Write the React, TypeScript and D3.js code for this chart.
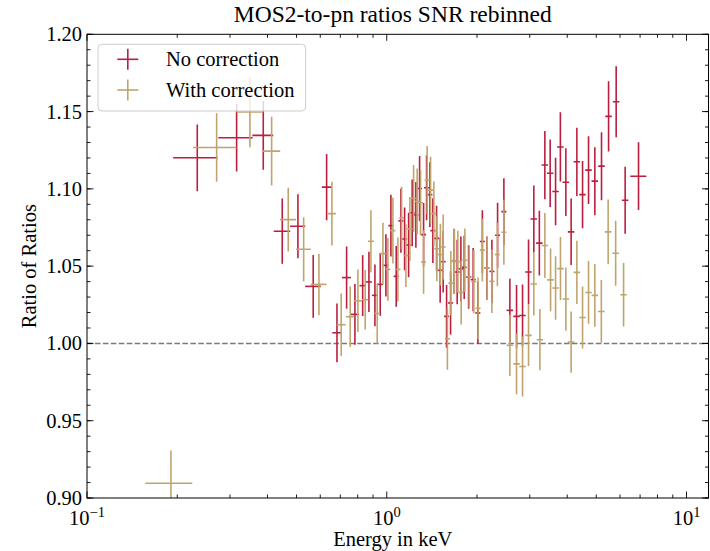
import React from "react";
import * as d3 from "d3";

// ---------- Data ----------
// Series 1: No correction
const noCorrEnergy = [0.2333, 0.3156, 0.3873, 0.4481, 0.5054, 0.5684, 0.6301, 0.6822, 0.7346, 0.7831, 0.8311, 0.872, 0.9131, 0.9511, 0.9935, 1.0323, 1.0753, 1.1149, 1.147, 1.1828, 1.2158, 1.2507, 1.2869, 1.3269, 1.3578, 1.3928, 1.4252, 1.4662, 1.5073, 1.5424, 1.5834, 1.6327, 1.6785, 1.7179, 1.7673, 1.8127, 1.875, 1.9423, 2.0137, 2.0845, 2.1578, 2.2424, 2.3428, 2.4588, 2.5746, 2.7102, 2.8379, 2.9717, 3.0951, 3.2291, 3.3684, 3.509, 3.6578, 3.7951, 3.958, 4.1217, 4.3073, 4.4998, 4.7117, 4.9448, 5.2053, 5.4954, 5.8256, 6.2419, 6.9167];
const noCorrEnergyErr = [0.0395, 0.0414, 0.031, 0.0283, 0.0292, 0.034, 0.0225, 0.024, 0.0255, 0.025, 0.02, 0.02, 0.021, 0.021, 0.02, 0.02, 0.021, 0.0215, 0.022, 0.023, 0.0235, 0.024, 0.025, 0.0255, 0.026, 0.027, 0.0275, 0.0285, 0.029, 0.03, 0.0305, 0.0315, 0.0325, 0.033, 0.034, 0.035, 0.0365, 0.0375, 0.039, 0.0405, 0.042, 0.0435, 0.0455, 0.0475, 0.064, 0.0675, 0.071, 0.074, 0.0775, 0.0805, 0.084, 0.0875, 0.0915, 0.095, 0.099, 0.103, 0.1075, 0.1125, 0.118, 0.1235, 0.13, 0.1375, 0.1455, 0.156, 0.425];
const noCorrRatio = [1.1201, 1.1331, 1.1346, 1.0726, 1.0758, 1.0369, 1.1011, 1.0069, 1.0426, 1.0188, 1.0374, 1.0398, 1.0311, 1.0382, 1.0505, 1.0762, 1.0434, 1.0793, 1.0676, 1.0637, 1.0845, 1.0832, 1.1002, 1.0704, 1.1007, 1.0963, 1.073, 1.068, 1.0473, 1.0529, 1.0175, 1.0262, 1.0532, 1.0462, 1.0482, 1.0492, 1.043, 1.0413, 1.0197, 1.0659, 1.0487, 1.0466, 1.07, 1.0853, 1.0214, 1.0175, 1.0181, 1.0462, 1.0805, 1.0649, 1.1154, 1.1101, 1.0983, 1.1271, 1.1043, 1.0722, 1.1175, 1.0963, 1.1121, 1.105, 1.1147, 1.1469, 1.1564, 1.0926, 1.1082];
const noCorrRatioErr = [0.0216, 0.0219, 0.0222, 0.0211, 0.0207, 0.0203, 0.0214, 0.019, 0.0201, 0.0196, 0.0197, 0.0195, 0.02, 0.0203, 0.0202, 0.02, 0.0197, 0.0207, 0.0203, 0.0208, 0.0216, 0.0213, 0.021, 0.0205, 0.021, 0.021, 0.021, 0.021, 0.021, 0.02, 0.0203, 0.0205, 0.021, 0.0208, 0.021, 0.0205, 0.0205, 0.0205, 0.02, 0.0203, 0.0205, 0.0205, 0.021, 0.0216, 0.0205, 0.0203, 0.02, 0.021, 0.0216, 0.021, 0.0221, 0.0218, 0.0218, 0.0224, 0.0219, 0.0215, 0.0221, 0.0218, 0.0219, 0.022, 0.022, 0.0227, 0.023, 0.0217, 0.0219];

// Series 2: With correction
const withCorrEnergy = [0.1906, 0.2707, 0.3496, 0.413, 0.4692, 0.5282, 0.5939, 0.6563, 0.7048, 0.7553, 0.8013, 0.8474, 0.8854, 0.9294, 0.971, 1.0088, 1.0484, 1.0895, 1.1208, 1.1585, 1.1946, 1.229, 1.2632, 1.2967, 1.3269, 1.3641, 1.4001, 1.4361, 1.4696, 1.5097, 1.5424, 1.5933, 1.6364, 1.6812, 1.7271, 1.7713, 1.8223, 1.8836, 1.9525, 2.0166, 2.0845, 2.1612, 2.2424, 2.3391, 2.4588, 2.5746, 2.7102, 2.8379, 2.9717, 3.0951, 3.2417, 3.3684, 3.5197, 3.6578, 3.798, 3.958, 4.1217, 4.3073, 4.4998, 4.7117, 4.9448, 5.1981, 5.4777, 5.8028, 6.1662];
const withCorrEnergyErr = [0.034, 0.0447, 0.0343, 0.028, 0.0288, 0.03, 0.0358, 0.02, 0.024, 0.025, 0.025, 0.02, 0.02, 0.021, 0.021, 0.02, 0.0205, 0.021, 0.0215, 0.0225, 0.023, 0.024, 0.0245, 0.025, 0.0255, 0.0265, 0.027, 0.028, 0.0285, 0.029, 0.03, 0.031, 0.0315, 0.0325, 0.0335, 0.0345, 0.0355, 0.0365, 0.038, 0.039, 0.0405, 0.042, 0.0435, 0.0455, 0.0475, 0.064, 0.0675, 0.071, 0.074, 0.0775, 0.081, 0.084, 0.088, 0.0915, 0.095, 0.099, 0.103, 0.1075, 0.1125, 0.118, 0.1235, 0.13, 0.137, 0.145, 0.154];
const withCorrRatio = [0.9095, 1.1268, 1.1497, 1.1244, 1.0801, 1.0609, 1.0382, 1.084, 1.0121, 1.0173, 1.0276, 1.0283, 1.0661, 1.0194, 1.0581, 1.0479, 1.073, 1.0479, 1.0812, 1.0568, 1.0741, 1.0939, 1.0918, 1.091, 1.0527, 1.1056, 1.0992, 1.084, 1.0613, 1.0575, 1.0624, 1.003, 1.039, 1.0531, 1.0529, 1.033, 1.0538, 1.0432, 1.04, 1.0227, 1.0604, 1.0487, 1.0402, 1.0575, 1.0719, 0.9988, 0.9868, 0.9851, 1.0052, 1.0385, 1.0024, 1.0634, 1.0411, 1.0359, 1.0484, 1.0287, 1.0009, 1.046, 1.0168, 1.033, 1.0311, 1.0207, 1.0722, 1.0583, 1.0315];
const withCorrRatioErr = [0.0212, 0.0222, 0.0227, 0.0222, 0.0207, 0.0207, 0.0199, 0.0206, 0.0203, 0.0196, 0.0202, 0.0192, 0.02, 0.0194, 0.02, 0.0203, 0.0213, 0.0207, 0.0202, 0.0203, 0.0207, 0.0216, 0.0213, 0.021, 0.0206, 0.0221, 0.0215, 0.021, 0.021, 0.02, 0.021, 0.02, 0.0208, 0.021, 0.02, 0.0207, 0.0205, 0.02, 0.0205, 0.02, 0.0203, 0.0205, 0.0205, 0.0205, 0.021, 0.0198, 0.0197, 0.0194, 0.0198, 0.0205, 0.0198, 0.021, 0.0203, 0.0205, 0.0205, 0.0205, 0.0198, 0.0205, 0.0201, 0.0203, 0.0203, 0.0203, 0.021, 0.021, 0.0205];

const seriesNames = ["No correction", "With correction"];
const yTickValues = [0.9, 0.95, 1.0, 1.05, 1.1, 1.15, 1.2];
const yTickLabels = ["0.90", "0.95", "1.00", "1.05", "1.10", "1.15", "1.20"];
const xMajorTicks = [0.1, 1, 10];
const xMajorExponents = ["\u22121", "0", "1"];
const referenceLevel = 1.0;

// ---------- Layout ----------
const W = 710;
const H = 551;
const left = 87;
const right = 708.5;
const top = 34.3;
const bottom = 498;

const RED = "#bb1f3f";
const TAN = "#bfa56d";
const FONT = "Liberation Serif, Times New Roman, DejaVu Serif, serif";

const x = d3.scaleLog().domain([0.1, 11.84]).range([left, right]);
const y = d3.scaleLinear().domain([0.9, 1.2]).range([bottom, top]);

function makeSeries(e: number[], ee: number[], r: number[], re: number[]) {
  return e.map((v, i) => ({ e: v, ee: ee[i], r: r[i], re: re[i] }));
}

const series = [
  { name: seriesNames[0], color: RED, data: makeSeries(noCorrEnergy, noCorrEnergyErr, noCorrRatio, noCorrRatioErr) },
  { name: seriesNames[1], color: TAN, data: makeSeries(withCorrEnergy, withCorrEnergyErr, withCorrRatio, withCorrRatioErr) },
];

export default function App() {
  const minorX: number[] = [];
  for (let dec = 0.1; dec < 20; dec *= 10) {
    for (let k = 2; k <= 9; k++) {
      const v = k * dec;
      if (v > 0.1 && v < 11.84) minorX.push(v);
    }
  }
  const minorY = d3.range(0, 31).map((i) => 0.9 + i * 0.01);

  const majLen = 6.5;
  const minLen = 3.5;
  const tickColor = "#000";

  return (
    <svg
      width={W}
      height={H}
      style={{ position: "absolute", left: 0, top: 0, background: "#fff", fontFamily: FONT }}
    >
      <rect x={0} y={0} width={W} height={H} fill="#fff" />
      <defs>
        <clipPath id="plotclip">
          <rect x={left} y={top} width={right - left} height={bottom - top} />
        </clipPath>
      </defs>

      {/* reference line */}
      <line
        x1={left}
        x2={right}
        y1={y(referenceLevel)}
        y2={y(referenceLevel)}
        stroke="#7a7a7a"
        strokeWidth={1.6}
        strokeDasharray="5.55 2.4"
      />

      {/* error bars */}
      <g clipPath="url(#plotclip)">
        {series.map((s) => (
          <g key={s.name} stroke={s.color} strokeWidth={1.6}>
            {s.data.map((d, i) => (
              <g key={i}>
                <line x1={x(d.e - d.ee)} x2={x(d.e + d.ee)} y1={y(d.r)} y2={y(d.r)} />
                <line x1={x(d.e)} x2={x(d.e)} y1={y(d.r - d.re)} y2={y(d.r + d.re)} />
              </g>
            ))}
          </g>
        ))}
      </g>

      {/* ticks */}
      <g stroke={tickColor} strokeWidth={0.9}>
        {xMajorTicks.map((t) => (
          <g key={"xM" + t}>
            <line x1={x(t)} x2={x(t)} y1={bottom} y2={bottom - majLen} />
            <line x1={x(t)} x2={x(t)} y1={top} y2={top + majLen} />
          </g>
        ))}
        {minorX.map((t) => (
          <g key={"xm" + t}>
            <line x1={x(t)} x2={x(t)} y1={bottom} y2={bottom - minLen} />
            <line x1={x(t)} x2={x(t)} y1={top} y2={top + minLen} />
          </g>
        ))}
        {yTickValues.map((t) => (
          <g key={"yM" + t}>
            <line x1={left} x2={left + majLen} y1={y(t)} y2={y(t)} />
            <line x1={right} x2={right - majLen} y1={y(t)} y2={y(t)} />
          </g>
        ))}
        {minorY.map((t, i) => (
          <g key={"ym" + i}>
            <line x1={left} x2={left + minLen} y1={y(t)} y2={y(t)} />
            <line x1={right} x2={right - minLen} y1={y(t)} y2={y(t)} />
          </g>
        ))}
      </g>

      {/* frame */}
      <rect x={left} y={top} width={right - left} height={bottom - top} fill="none" stroke="#000" strokeWidth={1} />

      {/* tick labels */}
      <g fontSize={20.5} fill="#000">
        {yTickValues.map((t, i) => (
          <text key={"yl" + t} x={left - 5} y={y(t)} textAnchor="end" dominantBaseline="central">
            {yTickLabels[i]}
          </text>
        ))}
        {xMajorTicks.map((t, i) => (
          <text key={"xl" + t} x={x(t)} y={bottom + 27} textAnchor="middle">
            10
            <tspan fontSize={14.5} dy={-8}>
              {xMajorExponents[i]}
            </tspan>
          </text>
        ))}
      </g>

      {/* axis labels & title */}
      <text x={(left + right) / 2 - 5} y={546} textAnchor="middle" fontSize={20.5}>
        Energy in keV
      </text>
      <text
        transform={`translate(36, ${(top + bottom) / 2}) rotate(-90)`}
        textAnchor="middle"
        fontSize={20.5}
      >
        Ratio of Ratios
      </text>
      <text x={(left + right) / 2 - 5} y={22} textAnchor="middle" fontSize={23.5}>
        MOS2-to-pn ratios SNR rebinned
      </text>

      {/* legend */}
      <g>
        <rect x={98} y={44.3} width={207.7} height={66.7} rx={4} fill="#fff" fillOpacity={0.8} stroke="#cccccc" strokeWidth={1} />
        {series.map((s, i) => {
          const cy = 59.3 + i * 30.7;
          return (
            <g key={"lg" + i}>
              <line x1={117.3} x2={138.3} y1={cy} y2={cy} stroke={s.color} strokeWidth={1.6} />
              <line x1={127.8} x2={127.8} y1={cy - 10.5} y2={cy + 10.5} stroke={s.color} strokeWidth={1.6} />
              <text x={166} y={cy} dominantBaseline="central" fontSize={20.5}>
                {s.name}
              </text>
            </g>
          );
        })}
      </g>
    </svg>
  );
}
